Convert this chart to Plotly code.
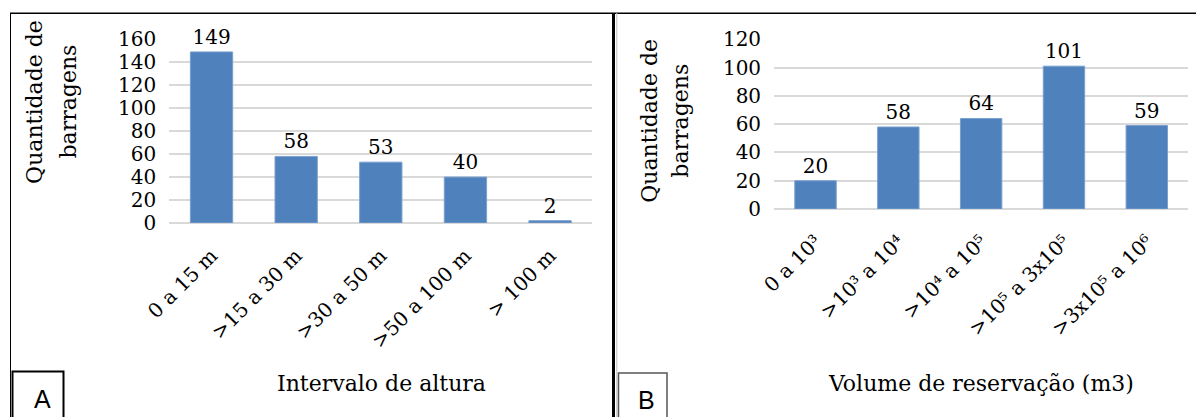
import plotly.graph_objects as go

# ---- data ----
alt_categories = ["0 a 15 m", ">15 a 30 m", ">30 a 50 m", ">50 a 100 m", "> 100 m"]
alt_values = [149, 58, 53, 40, 2]

vol_categories = ["0 a 10³", ">10³ a 10⁴", ">10⁴ a 10⁵", ">10⁵ a 3x10⁵", ">3x10⁵ a 10⁶"]
vol_values = [20, 58, 64, 101, 59]

y_title_lines = ["Quantidade de", "barragens"]
alt_x_title = "Intervalo de altura"
vol_x_title = "Volume de reservação (m3)"

# the page body has an 8px margin, so the figure is offset by 8px
OFF = 8
W, H = 1204 - OFF, 417 - OFF
SERIF = "DejaVu Serif"
BAR = "#4F81BD"
GRID = "#d9d9d9"


def px(x):
    return (x - OFF) / W


def py(y):
    return 1 - (y - OFF) / H


fig = go.Figure()
fig.add_trace(go.Bar(x=alt_categories, y=alt_values, text=alt_values,
                     textposition="outside", cliponaxis=False,
                     textfont=dict(family=SERIF, size=20, color="black"),
                     marker=dict(color=BAR, line=dict(color="#7aa0cf", width=1)),
                     xaxis="x", yaxis="y", showlegend=False))
fig.add_trace(go.Bar(x=vol_categories, y=vol_values, text=vol_values,
                     textposition="outside", cliponaxis=False,
                     textfont=dict(family=SERIF, size=20, color="black"),
                     marker=dict(color=BAR, line=dict(color="#7aa0cf", width=1)),
                     xaxis="x2", yaxis="y2", showlegend=False))

tickfont = dict(family=SERIF, size=20, color="black")
common_x = dict(tickangle=-45, tickfont=tickfont, showgrid=False, showline=False,
                ticks="", zeroline=False, fixedrange=True, automargin=False,
                ticklabelstandoff=16)
common_y = dict(tickfont=tickfont, showgrid=True, gridcolor=GRID, gridwidth=2,
                zeroline=True, zerolinecolor=GRID, zerolinewidth=2, showline=False,
                ticks="", ticklabelstandoff=12, fixedrange=True, automargin=False)

fig.update_layout(
    width=W, height=H, autosize=False,
    margin=dict(l=0, r=0, t=0, b=0),
    paper_bgcolor="white", plot_bgcolor="white",
    bargap=0.5,
    xaxis=dict(domain=[px(169.2), px(592.4)], anchor="y", **common_x),
    yaxis=dict(domain=[py(223), py(39.3)], anchor="x", range=[0, 160], dtick=20, **common_y),
    xaxis2=dict(domain=[px(774.1), px(1188.2)], anchor="y2", **common_x),
    yaxis2=dict(domain=[py(209), py(39.3)], anchor="x2", range=[0, 120], dtick=20, **common_y),
)

P = dict(xref="paper", yref="paper")
shapes = [
    # top border
    dict(type="line", x0=px(10), x1=1, y0=py(13.3), y1=py(13.3), line=dict(color="black", width=1.5), **P),
    # left border
    dict(type="line", x0=px(10.5), x1=px(10.5), y0=py(13), y1=0, line=dict(color="black", width=1), **P),
    # separator thick
    dict(type="line", x0=px(613.5), x1=px(613.5), y0=py(13), y1=0, line=dict(color="black", width=3), **P),
    # separator thin gray
    dict(type="line", x0=px(616.8), x1=px(616.8), y0=py(13), y1=0, line=dict(color="#c0c0c0", width=1), **P),
    # box A
    dict(type="rect", x0=px(12.5), x1=px(63.5), y0=py(371.5), y1=py(420), line=dict(color="black", width=2), **P),
    # box B
    dict(type="rect", x0=px(618.5), x1=px(667), y0=py(373), y1=py(420), line=dict(color="#555555", width=1.5), **P),
]
fig.update_layout(shapes=shapes)

ann = []
ytf = dict(family=SERIF, size=22, color="black")
for cx, cy, lines in [((34.4, 68), 101.5, y_title_lines), ((650, 681), 120.7, y_title_lines)]:
    for xx, t in zip(cx, lines):
        ann.append(dict(text=t, x=px(xx), y=py(cy), textangle=-90, showarrow=False, font=ytf,
                        xanchor="center", yanchor="middle", **P))
ann.append(dict(text=alt_x_title, x=px(381), y=py(383), showarrow=False, font=ytf,
                xanchor="center", yanchor="middle", **P))
ann.append(dict(text=vol_x_title, x=px(981), y=py(383), showarrow=False, font=ytf,
                xanchor="center", yanchor="middle", **P))
lf = dict(family="Liberation Sans", size=25, color="black")
ann.append(dict(text="A", x=px(42.5), y=py(399), showarrow=False, font=lf,
                xanchor="center", yanchor="middle", **P))
ann.append(dict(text="B", x=px(646), y=py(400), showarrow=False, font=lf,
                xanchor="center", yanchor="middle", **P))
fig.update_layout(annotations=ann)

fig.write_html("out.html")
